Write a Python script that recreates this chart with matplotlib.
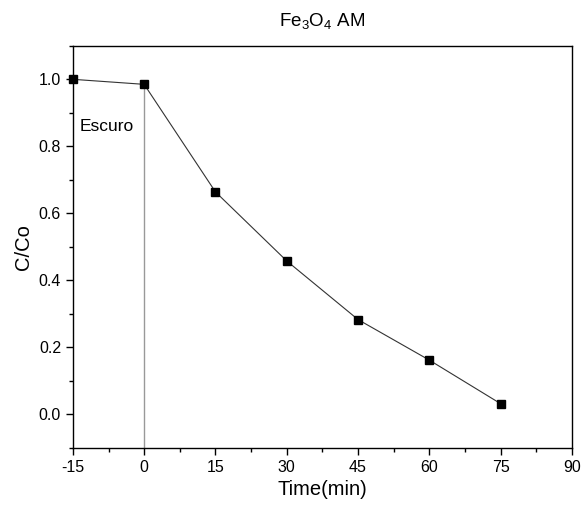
import numpy as np
import matplotlib.pyplot as plt

plt.rcParams['font.family'] = ['Liberation Sans', 'DejaVu Sans']
plt.rcParams['mathtext.fontset'] = 'custom'
plt.rcParams['mathtext.rm'] = 'Liberation Sans'
plt.rcParams['axes.unicode_minus'] = False

# donnees
t = [-15, 0, 15, 30, 45, 60, 75]
c_co = [1.0, 0.985, 0.664, 0.458, 0.283, 0.162, 0.032]

fig = plt.figure(figsize=(5.83, 5.09), dpi=100)
ax = fig.add_axes([0.125, 0.12, 0.856, 0.79])

ax.plot(t, c_co, '-', color='#333333', lw=0.8)
ax.plot(t, c_co, 's', color='black', ms=6, clip_on=False, zorder=5)

# ligne verticale a t=0
ax.plot([0, 0], [-0.1, c_co[1]], color='#999999', lw=1)

ax.text(-13.6, 0.86, 'Escuro', fontsize=12.5, va='center')

ax.set_xlim(-15, 90)
ax.set_ylim(-0.1, 1.1)
ax.set_xticks(np.arange(-15, 91, 15))
ax.set_xticks(np.arange(-15, 91, 7.5), minor=True)
ax.set_yticks(np.arange(0, 1.01, 0.2))
ax.set_yticks(np.arange(-0.1, 1.11, 0.1), minor=True)
ax.tick_params(which='both', direction='out', top=False, right=False, labelsize=11.5, width=1)
ax.tick_params(which='major', length=5)
ax.tick_params(which='minor', length=3)
for s in ax.spines.values():
    s.set_linewidth(1)

ax.set_xlabel('Time(min)', fontsize=14.5)
ax.set_ylabel('C/Co', fontsize=14.5)
ax.set_title(r'Fe$_3$O$_4$ AM', fontsize=13.5, pad=14)

plt.savefig('out.png', dpi=100)
